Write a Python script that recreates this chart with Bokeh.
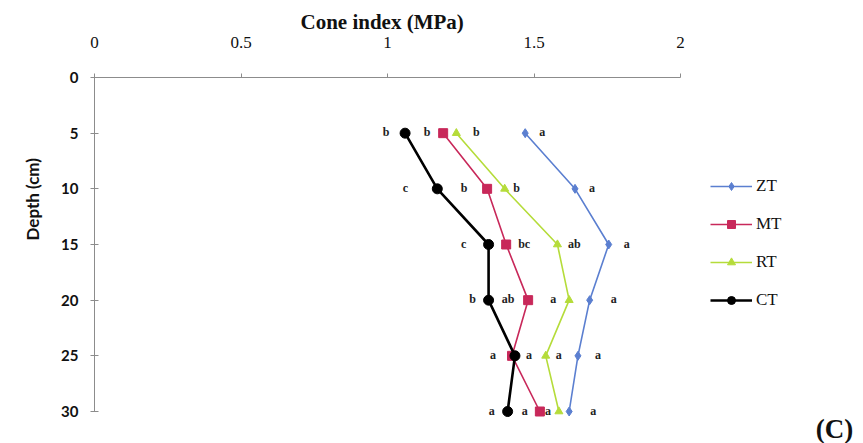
from bokeh.plotting import figure
from bokeh.models import Range1d, FixedTicker, Legend, LegendItem, Label, Title, ColumnDataSource
from bokeh.core.properties import value
from bokeh.embed import file_html
from bokeh.resources import INLINE

# Depth of each reading (cm)
depth = [5, 10, 15, 20, 25, 30]

# Cone index (MPa) per tillage system
zt = [1.47, 1.64, 1.755, 1.69, 1.65, 1.62]
mt = [1.19, 1.34, 1.405, 1.48, 1.425, 1.52]
rt = [1.235, 1.40, 1.58, 1.62, 1.54, 1.585]
ct = [1.06, 1.17, 1.345, 1.345, 1.435, 1.41]

# Significance letters at each depth
zt_letters = ["a", "a", "a", "a", "a", "a"]
mt_letters = ["b", "b", "bc", "ab", "a", "a"]
rt_letters = ["b", "b", "ab", "a", "a", "a"]
ct_letters = ["b", "c", "c", "b", "a", "a"]

x_ticks = [0, 0.5, 1, 1.5, 2]
y_ticks = [0, 5, 10, 15, 20, 25, 30]

# horizontal pixel offsets of the letters from their markers
zt_dx = [17, 17, 18, 24, 20, 24]
mt_dx = [-16, -23, 18, -20, 17, -15]
rt_dx = [20, 12, 17, -16, 13, -11]
ct_dx = [-19, -32, -25, -16, -22, -16]

SERIF = "Liberation Serif"
PX_X = 293.0      # pixels per MPa
PX_Y = 334 / 30   # pixels per cm
FW, FH = 769, 366

p = figure(
    frame_width=FW, frame_height=FH,
    min_border_left=94, min_border_right=0, min_border_top=77, min_border_bottom=0,
    x_range=Range1d(0, FW / PX_X), y_range=Range1d(FH / PX_Y, 0),
    x_axis_location="above",
    output_backend="svg", toolbar_location=None,
)
p.outline_line_color = None
p.xgrid.visible = False
p.ygrid.visible = False
p.background_fill_color = "white"
p.border_fill_color = "white"

# x-axis title, aligned over the 0-2 MPa span of the axis
p.title.text = "Cone index (MPa)"
p.title.align = "left"
p.title.offset = 206
p.title.standoff = 0
p.title.text_font = SERIF
p.title.text_font_style = "bold"
p.title.text_font_size = "21px"
p.title.text_color = "#111111"

xa = p.xaxis[0]
xa.bounds = (0, 2)
xa.ticker = FixedTicker(ticks=x_ticks)
xa.minor_tick_line_color = None
xa.axis_line_color = "#8c8c8c"
xa.major_tick_line_color = "#8c8c8c"
xa.major_tick_in = 0
xa.major_tick_out = 4
xa.major_label_standoff = 26
xa.major_label_text_font = SERIF
xa.major_label_text_font_size = "17px"
xa.major_label_text_color = "#111111"

ya = p.yaxis[0]
ya.bounds = (0, 30)
ya.ticker = FixedTicker(ticks=y_ticks)
ya.minor_tick_line_color = None
ya.axis_line_color = "#8c8c8c"
ya.major_tick_line_color = "#8c8c8c"
ya.major_tick_in = 4
ya.major_tick_out = 4
ya.major_label_standoff = 12
ya.major_label_text_font = "Lato"
ya.major_label_text_font_style = "bold"
ya.major_label_text_font_size = "15px"
ya.major_label_text_color = "#111111"

# y-axis title placed higher than the centre of the frame
p.add_layout(Title(text="Depth (cm)", align="left", offset=203, standoff=28,
                   vertical_align="top",
                   text_font="Lato", text_font_style="bold",
                   text_font_size="17px", text_color="#111111"), "left")

series = [
    ("ZT", zt, zt_letters, zt_dx, "#5b7fd0", "diamond", 9, 1.6),
    ("MT", mt, mt_letters, mt_dx, "#c8285a", "square", 9, 1.6),
    ("RT", rt, rt_letters, rt_dx, "#b5dc3a", "triangle", 8, 1.6),
    ("CT", ct, ct_letters, ct_dx, "#000000", "circle", 10, 2.6),
]

items = []
for name, xs, letters, dx, color, marker, size, lw in series:
    src = ColumnDataSource(dict(x=xs, y=depth, t=letters, dx=dx))
    ln = p.line("x", "y", source=src, line_color=color, line_width=lw)
    mk = p.scatter("x", "y", source=src, marker=marker, size=size,
                   fill_color=color, line_color=color)
    p.text("x", "y", text="t", source=src, x_offset="dx", y_offset=-1,
           text_align="center", text_baseline="middle",
           text_font=value(SERIF), text_font_style="bold",
           text_font_size="12px", text_color="#222222")
    items.append(LegendItem(label=name, renderers=[ln, mk]))

legend = Legend(
    items=items, location=(616, 133),
    background_fill_alpha=0, border_line_color=None,
    label_text_font=SERIF, label_text_font_size="17px",
    label_text_color="#111111",
    glyph_width=42, glyph_height=20, label_standoff=4,
    spacing=18, padding=0, margin=0,
)
p.add_layout(legend)

p.add_layout(Label(x=(834 - 94) / PX_X, y=(428 - 77) / PX_Y, text="(C)",
                   text_font=SERIF, text_font_style="bold",
                   text_font_size="27px", text_color="#111111",
                   text_align="center", text_baseline="middle"))

open("out.html", "w").write(file_html(p, INLINE))
